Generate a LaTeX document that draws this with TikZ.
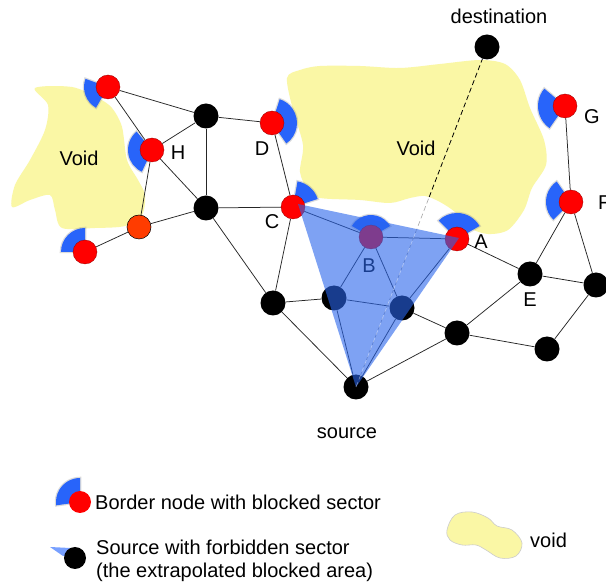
\documentclass[tikz,border=0pt]{standalone}
\usepackage{fontspec}
\setmainfont{Liberation Sans}
\pgfdeclarelayer{bg}
\pgfdeclarelayer{sec}
\pgfdeclarelayer{tri}
\pgfdeclarelayer{top}
\pgfsetlayers{bg,sec,main,tri,top}
\definecolor{voidy}{RGB}{250,247,165}
\definecolor{secblue}{RGB}{40,100,250}
\definecolor{tribl}{RGB}{40,100,235}
\definecolor{nodered}{RGB}{255,0,0}
\definecolor{nodeorange}{RGB}{255,60,0}
\definecolor{srcwedge}{RGB}{120,160,255}
\tikzset{
  blk/.style={circle,fill=black,inner sep=0pt,minimum size=25pt},
  rednode/.style={circle,fill=nodered,draw=red!60!black,line width=0.3pt,inner sep=0pt,minimum size=24pt},
  orgnode/.style={circle,fill=nodeorange,draw=black,line width=0.5pt,inner sep=0pt,minimum size=24pt},
  link/.style={draw=black!85,line width=0.75pt},
  lbl/.style={font=\fontsize{20}{24}\selectfont,inner sep=0pt},
  voidshape/.style={fill=voidy},
  sectorfill/.style={fill=secblue,preaction={draw=black!40,line width=2.5pt,opacity=0.35}},
}
\newcommand\bsector[4]{%
  \path[sectorfill] (#1.center) -- ++(#2:#4) arc[start angle=#2,end angle=#3,radius=#4] -- cycle;}
\begin{document}
\begin{tikzpicture}[x=1pt,y=-1pt]
\clip (0,0) rectangle (606,585);

% voids
\begin{pgfonlayer}{bg}
\fill[white] (0,0) rectangle (606,585);
\fill[voidshape] plot[smooth cycle,tension=0.5] coordinates {
 (35,88) (72,87) (98,98) (112,108) (122,127) (127,160) (138,180) (145,195)
 (142,215) (125,226) (95,228) (62,228) (55,210) (50,195) (30,200) (12,207)
 (15,185) (30,160) (45,130) (48,105)};
\fill[voidshape] plot[smooth cycle,tension=0.5] coordinates {
 (287,78) (300,70) (320,66) (360,66) (400,68) (440,64) (480,60) (505,64)
 (520,80) (530,108) (544,140) (546,165) (532,188) (524,210) (508,230)
 (488,234) (470,228) (455,212) (440,202) (425,196) (410,198) (390,203)
 (360,200) (320,198) (308,190) (300,172) (303,145) (293,110)};
\end{pgfonlayer}

% nodes
\node[rednode] (H1) at (108,87) {};
\node[rednode] (H) at (152,150) {};
\node[blk] (N1) at (206,116) {};
\node[blk] (N2) at (206,208) {};
\node[orgnode] (O) at (139,227) {};
\node[rednode] (L) at (85,252) {};
\node[rednode] (D) at (272,123) {};
\node[rednode] (C) at (293,207) {};
\node[rednode] (B) at (371,237) {};
\node[rednode] (A) at (457,239) {};
\node[rednode] (G) at (565,106) {};
\node[rednode] (F) at (571,202) {};
\node[blk] (E) at (530,274) {};
\node[blk] (R1) at (596,285) {};
\node[blk] (R2) at (547,349) {};
\node[blk] (M) at (457,333) {};
\node[blk] (P) at (402,308) {};
\node[blk] (Q) at (334,298) {};
\node[blk] (K) at (273,303) {};
\node[blk] (S) at (356,387) {};
\node[blk] (T) at (487,47) {};

% edges
\begin{pgfonlayer}{bg}
\foreach \u/\v in {H1/N1,H1/H,H/N1,H/N2,H/O,O/N2,O/L,N1/N2,N1/D,N2/C,N2/K,D/C,
  C/B,C/K,B/A,B/Q,B/P,A/P,A/E,Q/K,Q/P,Q/S,P/S,P/M,K/S,M/S,M/E,M/R2,E/F,E/R1,
  F/G,F/R1,R1/R2}
  \draw[link] (\u) -- (\v);
\path (S.center) -- coordinate[pos=0.559] (X) coordinate[pos=0.462] (Y) (T.center);
\draw[black,line width=0.8pt,dash pattern=on 5pt off 3pt] (X) -- (T);
\draw[black!35,line width=0.6pt,dash pattern=on 5pt off 3pt] (S) -- (X);
\end{pgfonlayer}

% blocked sectors
\begin{pgfonlayer}{sec}
\bsector{H1}{160}{240}{24pt}
\bsector{H}{130}{245}{24pt}
\bsector{L}{90}{180}{24pt}
\bsector{D}{-55}{72}{25pt}
\bsector{C}{18}{80}{26pt}
\bsector{B}{30}{150}{22pt}
\bsector{A}{30}{135}{26pt}
\bsector{G}{140}{235}{27pt}
\bsector{F}{125}{225}{25pt}
\end{pgfonlayer}

\node[lbl,text=black] (lB) at (369,266) {B};

% forbidden sector (extrapolated blocked area)
\coordinate (t1) at (298,204);
\coordinate (t2) at (459,238);
\begin{pgfonlayer}{tri}
\fill[tribl,fill opacity=0.6] (t1) -- (t2) -- (S.center) -- cycle;
\draw[white,opacity=0.45,line width=0.6pt,dash pattern=on 5pt off 3pt] (S.center) -- (Y);
\end{pgfonlayer}

% labels
\begin{pgfonlayer}{top}
\node[lbl] (lH) at (178,153) {H};
\node[lbl] (lD) at (262,149) {D};
\node[lbl] (lC) at (272,222) {C};
\node[lbl] (lA) at (481,242) {A};
\node[lbl] (lE) at (530,300) {E};
\node[lbl] (lG) at (592,117) {G};
\node[lbl,anchor=west] (lF) at (598,203) {F};
\node[lbl] (ldest) at (499,16) {destination};
\node[lbl] (lsrc) at (347,433) {source};
\node[lbl] (lv1) at (79,158) {Void};
\node[lbl] (lv2) at (416,148) {Void};
\end{pgfonlayer}

% legend
\node[circle,fill=nodered,inner sep=0pt,minimum size=22pt] (LB) at (80,502) {};
\begin{pgfonlayer}{sec}
\path[sectorfill] (LB.center) -- ++(90:24pt) arc[start angle=90,end angle=188,radius=24pt] -- cycle;
\fill[srcwedge] (50,547) -- (70,548) -- (74,556) -- (63,556) -- cycle;
\end{pgfonlayer}
\node[lbl,anchor=base west] (lt1) at (95,510) {Border node with blocked sector};
\node[circle,fill=black,inner sep=0pt,minimum size=22pt] (LS) at (75,558) {};
\node[lbl,anchor=base west] (lt2) at (96,555) {Source with forbidden sector};
\node[lbl,anchor=base west] (lt3) at (96,578) {(the extrapolated blocked area)};
\fill[voidy,draw=black!20,line width=0.6pt] plot[smooth cycle,tension=0.6] coordinates {
 (447,530) (455,515) (472,512) (488,518) (497,526) (512,530) (522,543)
 (516,556) (500,558) (486,550) (476,545) (462,545) (450,540)};
\node[lbl,anchor=base west] (lvoid) at (530,548) {void};
\end{tikzpicture}
\end{document}
